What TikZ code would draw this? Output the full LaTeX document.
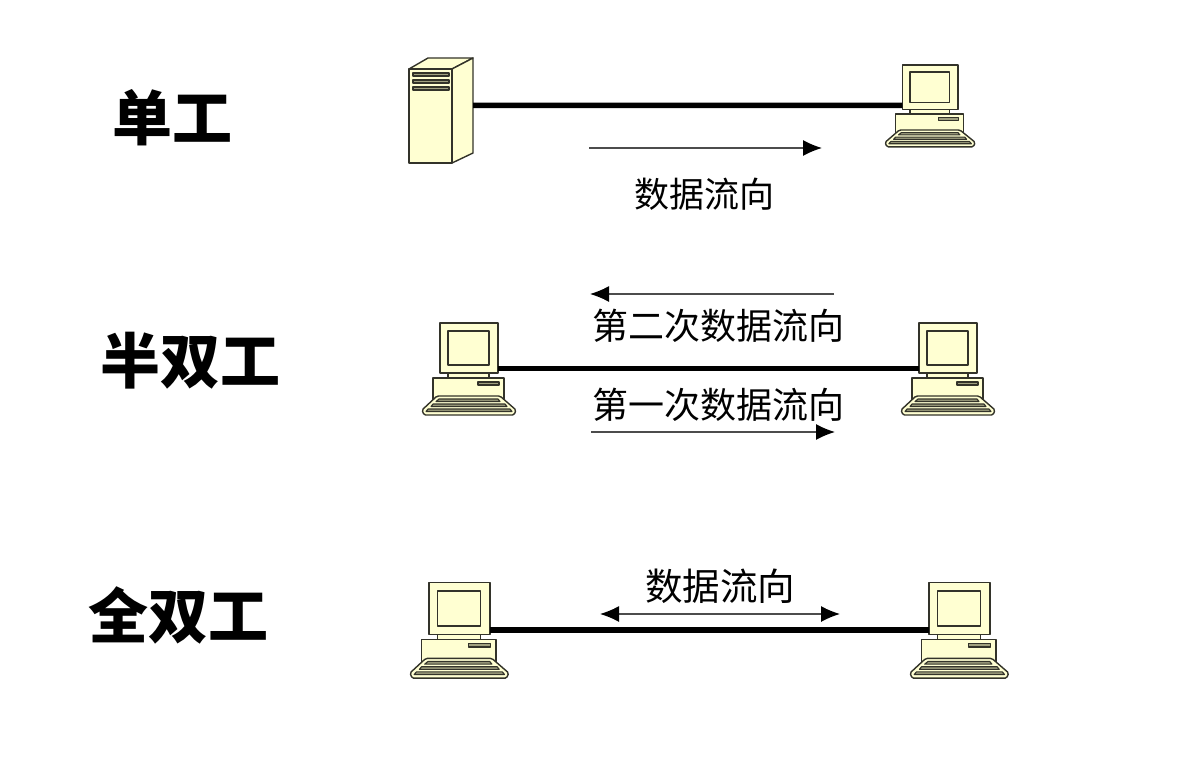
\documentclass[tikz,border=0pt]{standalone}
\usepackage{fontspec}
\setmainfont{Noto Sans CJK SC}
\usetikzlibrary{arrows.meta}
\definecolor{boxfill}{HTML}{FFFFD2}
\definecolor{slotfill}{HTML}{A0A080}
\definecolor{boxline}{HTML}{33332A}
\tikzset{
  part/.style={fill=boxfill,draw=boxline,line width=1.4pt,line join=round},
  slot/.style={fill=slotfill,draw=boxline,line width=1.1pt,line join=round},
  link/.style={line width=5.5pt,black},
  flow/.style={draw=black!70,line width=1.2pt,-{Latex[black,length=19pt,width=16pt]}},
  flowboth/.style={draw=black!70,line width=1.2pt,{Latex[black,length=19pt,width=16pt]}-{Latex[black,length=19pt,width=16pt]}},
  title/.style={font=\fontsize{60}{60}\selectfont\bfseries,inner sep=0pt},
  caption/.style={font=\fontsize{35}{35}\selectfont,inner sep=0pt},
  pics/computer/.style={code={
    \draw[part] (18,0) rectangle (76,50);
    \draw[part] (26,8) rectangle (67,42);
    \draw[part] (26,50) rectangle (67,55);
    \draw[part] (11,55) rectangle (82,78);
    \draw[slot] (56,59) rectangle (77,62);
    \draw[part,rounded corners=1.5pt] (15,73) -- (0,87) -- (2,92) -- (92,92) -- (94,87) -- (78,73) -- cycle;
    \draw[slot] (17,76) -- (76,76) -- (78,78.5) -- (14,78.5) -- cycle;
    \draw[slot] (11,81) -- (83,81) -- (85,83.5) -- (9,83.5) -- cycle;
    \draw[slot] (6,86) -- (88,86) -- (90,88.5) -- (4,88.5) -- cycle;
    \coordinate (-west) at (18,45.5);
    \coordinate (-east) at (76,45.5);
  }},
  pics/server/.style={code={
    \draw[part] (0,11) -- (19,0) -- (64,0) -- (43,11) -- cycle;
    \draw[part] (43,11) -- (64,0) -- (64,95) -- (43,105) -- cycle;
    \draw[part] (0,11) rectangle (43,105);
    \draw[slot] (4,15) rectangle (40,18);
    \draw[slot] (4,22) rectangle (40,25);
    \draw[slot] (4,29) rectangle (40,32);
    \coordinate (-east) at (64,47.5);
  }}
}
\begin{document}
\begin{tikzpicture}[x=1pt,y=-1pt]
   \useasboundingbox (0,0) rectangle (1180,765);
   \node[title] (simplex) at (172,118) {单工};
   \node[title] (half) at (190,361) {半双工};
   \node[title] (full) at (178,615) {全双工};

   \pic (srv) at (409,58) {server};
   \pic[xscale=0.96,yscale=0.89] (pca) at (885,65) {computer};
   \draw[link] (srv-east) -- (pca-west);
   \coordinate (aa) at (589,148);
   \coordinate (ab) at (822,148);
   \draw[flow] (aa) -- (ab);
   \node[caption] (capa) at (704.5,194) {数据流向};

   \pic (pcb) at (422,323) {computer};
   \pic (pcc) at (901,323) {computer};
   \draw[link] (pcb-east) -- (pcc-west);
   \coordinate (ba) at (834,294);
   \coordinate (bb) at (590,294);
   \draw[flow] (ba) -- (bb);
   \node[caption,font=\fontsize{36}{36}\selectfont] (capb) at (718.5,326) {第二次数据流向};
   \node[caption,font=\fontsize{36}{36}\selectfont] (capc) at (718.5,405) {第一次数据流向};
   \coordinate (ca) at (591,432);
   \coordinate (cb) at (835,432);
   \draw[flow] (ca) -- (cb);

   \pic[xscale=1.05,yscale=1.04] (pcd) at (410,582.5) {computer};
   \pic[xscale=1.05,yscale=1.04] (pce) at (910,582.5) {computer};
   \draw[link] (pcd-east) -- (pce-west);
   \coordinate (da) at (600,614);
   \coordinate (db) at (840,614);
   \draw[flowboth] (da) -- (db);
   \node[caption,font=\fontsize{37.5}{37.5}\selectfont] (capd) at (720,586) {数据流向};
\end{tikzpicture}
\end{document}
